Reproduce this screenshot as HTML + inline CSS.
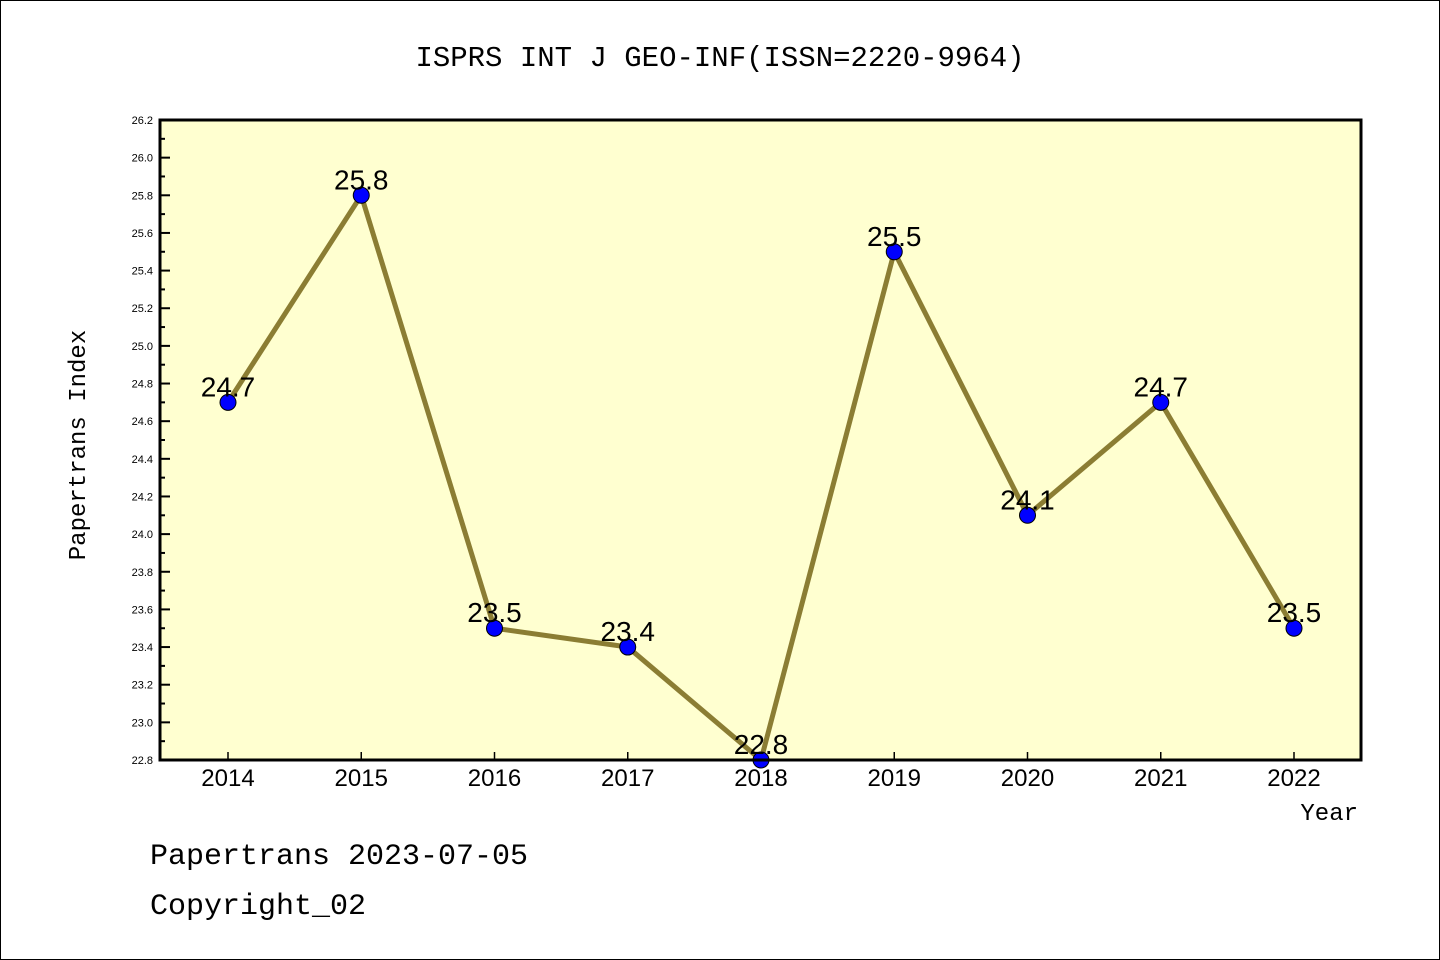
<!DOCTYPE html>
<html><head><meta charset="utf-8"><style>
body{margin:0;background:#fff}
svg{display:block;font-family:"Liberation Sans",sans-serif}
</style></head><body>
<svg id="c" width="1440" height="960">
<rect x="0.5" y="0.5" width="1439" height="959" fill="#fff" stroke="#000"/>
<text x="720" y="66" text-anchor="middle" font-family="Liberation Mono,monospace" font-size="29">ISPRS INT J GEO-INF(ISSN=2220-9964)</text>
<rect x="160" y="120" width="1201" height="640" fill="#ffffd0"/>
<g id="ticks"></g>
<g id="series"></g>
<rect x="160" y="120" width="1201" height="640" fill="none" stroke="#000" stroke-width="3"/>
<text x="85" y="445" transform="rotate(-90 85 445)" text-anchor="middle" font-family="Liberation Mono,monospace" font-size="24">Papertrans Index</text>
<text x="1358" y="820" text-anchor="end" font-family="Liberation Mono,monospace" font-size="24">Year</text>
<text x="150" y="864" font-family="Liberation Mono,monospace" font-size="30">Papertrans 2023-07-05</text>
<text x="150" y="914" font-family="Liberation Mono,monospace" font-size="30">Copyright_02</text>
</svg>
<script>
const years=[2014,2015,2016,2017,2018,2019,2020,2021,2022];
const values=[24.7,25.8,23.5,23.4,22.8,25.5,24.1,24.7,23.5];
const yTicks=[22.8,23.0,23.2,23.4,23.6,23.8,24.0,24.2,24.4,24.6,24.8,25.0,25.2,25.4,25.6,25.8,26.0,26.2];
const NS='http://www.w3.org/2000/svg';
const yMin=22.8,yMax=26.2;
function X(i){return 228+i*(1294-228)/(years.length-1);}
function Y(v){return 760-(v-yMin)/(yMax-yMin)*640;}
function mk(t,a,p){const e=document.createElementNS(NS,t);for(const k in a)e.setAttribute(k,a[k]);p.appendChild(e);return e;}
const tg=document.getElementById('ticks'),sg=document.getElementById('series');
yTicks.forEach((v,i)=>{
 const y=Y(v);
 const l=mk('line',{x1:160,x2:170,y1:y,y2:y,stroke:'#000','stroke-width':2},tg);
 
 
 const t=mk('text',{x:153,y:y+4,'text-anchor':'end','font-size':11},tg);t.textContent=v.toFixed(1);
 
 
 if(i<yTicks.length-1){const ym=Y(v+0.1);
  const m=mk('line',{x1:160,x2:165,y1:ym,y2:ym,stroke:'#000','stroke-width':2},tg);
  
  }
});
years.forEach((yr,i)=>{
 const x=X(i);
 const l=mk('line',{x1:x,x2:x,y1:760,y2:752,stroke:'#000','stroke-width':1.5},tg);
 
 
 const t=mk('text',{x:x,y:786,'text-anchor':'middle','font-size':24},tg);t.textContent=yr;
 
 
});
const pl=mk('polyline',{points:values.map((v,i)=>X(i)+','+Y(v)).join(' '),fill:'none',stroke:'#8b7d33','stroke-width':5},sg);


values.forEach((v,i)=>{
 const c=mk('circle',{cx:X(i),cy:Y(v),r:8,fill:'#0000ff',stroke:'#000','stroke-width':1},sg);
 
 
 const t=mk('text',{x:X(i),y:Y(v)-6,'text-anchor':'middle','font-size':28},sg);t.textContent=v.toFixed(1);
 
 
});
</script>
</body></html>
